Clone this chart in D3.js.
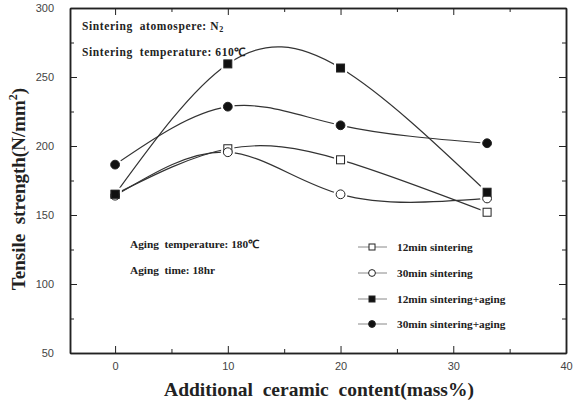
<!DOCTYPE html>
<meta charset="utf-8">
<style>
body { margin: 0; background: #fff; }
.tick text { font-family: "Liberation Sans", Arial, sans-serif; font-size: 11px; fill: #444; }
.domain, .tick line { stroke: #222; }
.note { font-family: "Liberation Serif", "Times New Roman", serif; font-weight: bold; fill: #222; }
</style>
<body>
<script src="https://d3js.org/d3.v7.min.js"></script>
<script>

var width = 578,
    height = 400,
    plotLeft = 70, plotRight = 566, plotTop = 8, plotBottom = 353;

// data
var content = [0, 10, 20, 33];
var sinter12 = [165, 198, 190, 152];
var sinter30 = [164, 195.5, 165, 162];
var sinter12Aging = [165, 259.5, 256.5, 166.5];
var sinter30Aging = [186.5, 228.5, 215, 202];
var seriesNames = ["12min sintering", "30min sintering", "12min sintering+aging", "30min sintering+aging"];
var xTicks = [0, 10, 20, 30, 40];
var xMinor = [5, 15, 25, 35];
var yTicks = [50, 100, 150, 200, 250, 300];
var yMinor = [75, 125, 175, 225, 275];

var series = [
  {name: seriesNames[0], values: sinter12, shape: "square", filled: false},
  {name: seriesNames[1], values: sinter30, shape: "circle", filled: false},
  {name: seriesNames[2], values: sinter12Aging, shape: "square", filled: true},
  {name: seriesNames[3], values: sinter30Aging, shape: "circle", filled: true}
];

var x = d3.scaleLinear().domain([-4, 40]).range([plotLeft, plotRight]);
var y = d3.scaleLinear().domain([50, 300]).range([plotBottom, plotTop]);

var svg = d3.select("body").append("svg")
    .attr("width", width)
    .attr("height", height);

// axes with inward ticks
function frame(axis, tr, vals, size, labels) {
  var g = svg.append("g").attr("transform", tr)
    .call(axis.tickValues(vals).tickSize(size).tickSizeOuter(0)
      .tickFormat(labels ? d3.format("d") : ""));
  g.select(".domain").attr("stroke-width", 1.5);
  return g;
}
frame(d3.axisBottom(x).tickPadding(9), "translate(0," + plotBottom + ")", xTicks, -7, true);
frame(d3.axisBottom(x), "translate(0," + plotBottom + ")", xMinor, -4, false);
frame(d3.axisTop(x), "translate(0," + plotTop + ")", xTicks, -7, false);
frame(d3.axisTop(x), "translate(0," + plotTop + ")", xMinor, -4, false);
frame(d3.axisLeft(y).tickPadding(16), "translate(" + plotLeft + ",0)", yTicks, -7, true);
frame(d3.axisLeft(y), "translate(" + plotLeft + ",0)", yMinor, -4, false);
frame(d3.axisRight(y), "translate(" + plotRight + ",0)", yTicks, -7, false);
frame(d3.axisRight(y), "translate(" + plotRight + ",0)", yMinor, -4, false);

// curves
var line = d3.line()
  .x(function(d, i){ return x(content[i]); })
  .y(function(d){ return y(d); })
  .curve(d3.curveNatural);

series.forEach(function(s){
  svg.append("path")
    .attr("d", line(s.values))
    .attr("fill", "none")
    .attr("stroke", "#333")
    .attr("stroke-width", 1.2);
});

function marker(g, shape, filled, cx, cy, halo, size) {
  var r = halo ? 6.5 : size;
  var m;
  if (shape === "square") {
    m = g.append("rect").attr("x", cx - r).attr("y", cy - r)
      .attr("width", 2 * r).attr("height", 2 * r);
  } else {
    m = g.append("circle").attr("cx", cx).attr("cy", cy).attr("r", r + 0.4);
  }
  if (halo) m.attr("fill", "#fff").attr("stroke", "none");
  else m.attr("fill", filled ? "#111" : "#fff").attr("stroke", "#222").attr("stroke-width", 1);
}

// white gaps around the markers, then the markers
series.forEach(function(s){
  s.values.forEach(function(v, i){ marker(svg, s.shape, s.filled, x(content[i]), y(v), true); });
});
series.forEach(function(s){
  s.values.forEach(function(v, i){ marker(svg, s.shape, s.filled, x(content[i]), y(v), false, 4); });
});

// notes
function note(tx, ty, size) {
  return svg.append("text").attr("class", "note").attr("x", tx).attr("y", ty)
    .attr("font-size", size).attr("xml:space", "preserve");
}
var n1 = note(82, 30, 11.5).attr("letter-spacing", 0.6).text("Sintering  atomospere: N");
n1.append("tspan").attr("font-size", 8).attr("dy", 2).text("2");
note(82, 56, 11.5).attr("letter-spacing", 0.6).text("Sintering  temperature: 610\u2103");
note(130, 248, 11.3).text("Aging  temperature: 180\u2103");
note(130, 274, 11.3).text("Aging  time: 18hr");

// legend
var legendY = [247, 273, 299, 324];
series.forEach(function(s, i){
  var ly = legendY[i];
  svg.append("line").attr("x1", 358).attr("x2", 387).attr("y1", ly).attr("y2", ly)
    .attr("stroke", "#888").attr("stroke-width", 1);
  marker(svg, s.shape, s.filled, 372, ly, false, 3);
  note(397, ly + 3.5, 11.3).text(s.name);
});

// axis titles
note(319, 396, 19.5).attr("text-anchor", "middle")
  .text("Additional  ceramic  content(mass%)");
var yt = note(0, 0, 19).attr("text-anchor", "middle")
  .attr("transform", "translate(25,189) rotate(-90)")
  .text("Tensile  strength(N/mm");
yt.append("tspan").attr("font-size", 12).attr("dy", -8).text("2");
yt.append("tspan").attr("dy", 8).text(")");

</script>
